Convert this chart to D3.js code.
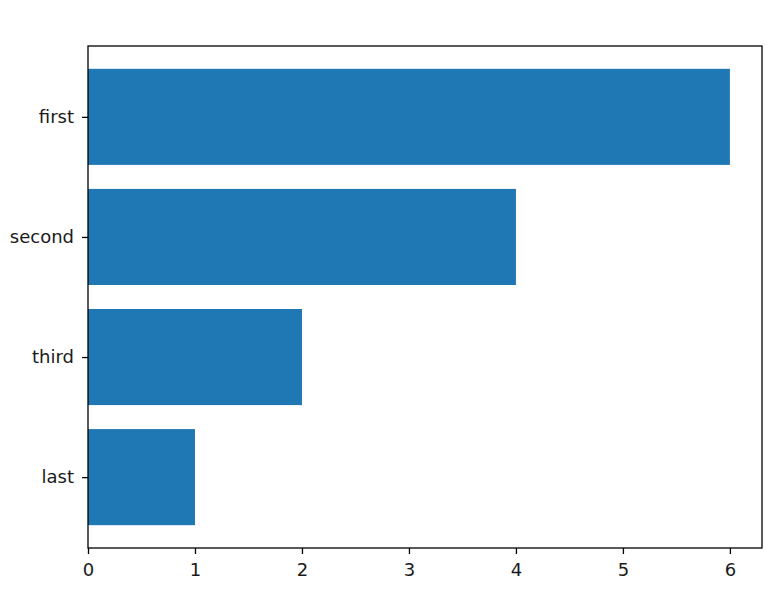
<!DOCTYPE html>
<html>
<head>
<meta charset="utf-8">
<script src="https://cdn.jsdelivr.net/npm/d3@7"></script>
<style>
  body { margin: 0; background: #fff; }
  svg { display: block; }
  text { font-family: "DejaVu Sans", sans-serif; }
</style>
</head>
<body>
<script>
const categories = ["first", "second", "third", "last"];
const values = [6, 4, 2, 1];
const xTicks = [0, 1, 2, 3, 4, 5, 6];

(function () {
const W = 778, H = 595;
const mLeft = 88, mRight = 762, mTop = 46, mBottom = 548;
const fs = "18px";

const svg = d3.select("body").append("svg").attr("width", W).attr("height", H);

const x = d3.scaleLinear().domain([0, 6.3]).range([mLeft, mRight]);
// categories at positions 0..3, bar height 0.8, margins 5%
const yPos = d3.scaleLinear().domain([-0.59, 3.59]).range([mTop, mBottom]);
const barH = 0.8;

svg.append("g").selectAll("rect").data(categories).join("rect")
  .attr("x", x(0))
  .attr("y", (d, i) => yPos(i - barH / 2))
  .attr("width", (d, i) => x(values[i]) - x(0))
  .attr("height", (d, i) => yPos(i + barH / 2) - yPos(i - barH / 2))
  .attr("fill", "#1f77b4");

// frame
svg.append("rect")
  .attr("x", mLeft).attr("y", mTop)
  .attr("width", mRight - mLeft).attr("height", mBottom - mTop)
  .attr("fill", "none").attr("stroke", "#000").attr("stroke-width", 1.3);

const xAxis = d3.axisBottom(x).tickValues(xTicks).tickFormat(d3.format("d")).tickSize(6).tickPadding(9);
const gx = svg.append("g").attr("transform", `translate(0,${mBottom})`).call(xAxis);
gx.select(".domain").remove();
gx.selectAll("line").attr("stroke", "#000").attr("stroke-width", 1.3);
gx.selectAll("text").style("font-size", fs).style("font-family", "DejaVu Sans").attr("fill", "#1a1a1a");

const yBand = d3.scaleOrdinal().domain(categories).range(categories.map((c, i) => yPos(i)));
const yAxis = d3.axisLeft(yBand).tickSize(6).tickPadding(8);
const gy = svg.append("g").attr("transform", `translate(${mLeft},0)`).call(yAxis);
gy.select(".domain").remove();
gy.selectAll("line").attr("stroke", "#000").attr("stroke-width", 1.3);
gy.selectAll("text").style("font-size", fs).style("font-family", "DejaVu Sans").attr("fill", "#1a1a1a");
})();
</script>
</body>
</html>
